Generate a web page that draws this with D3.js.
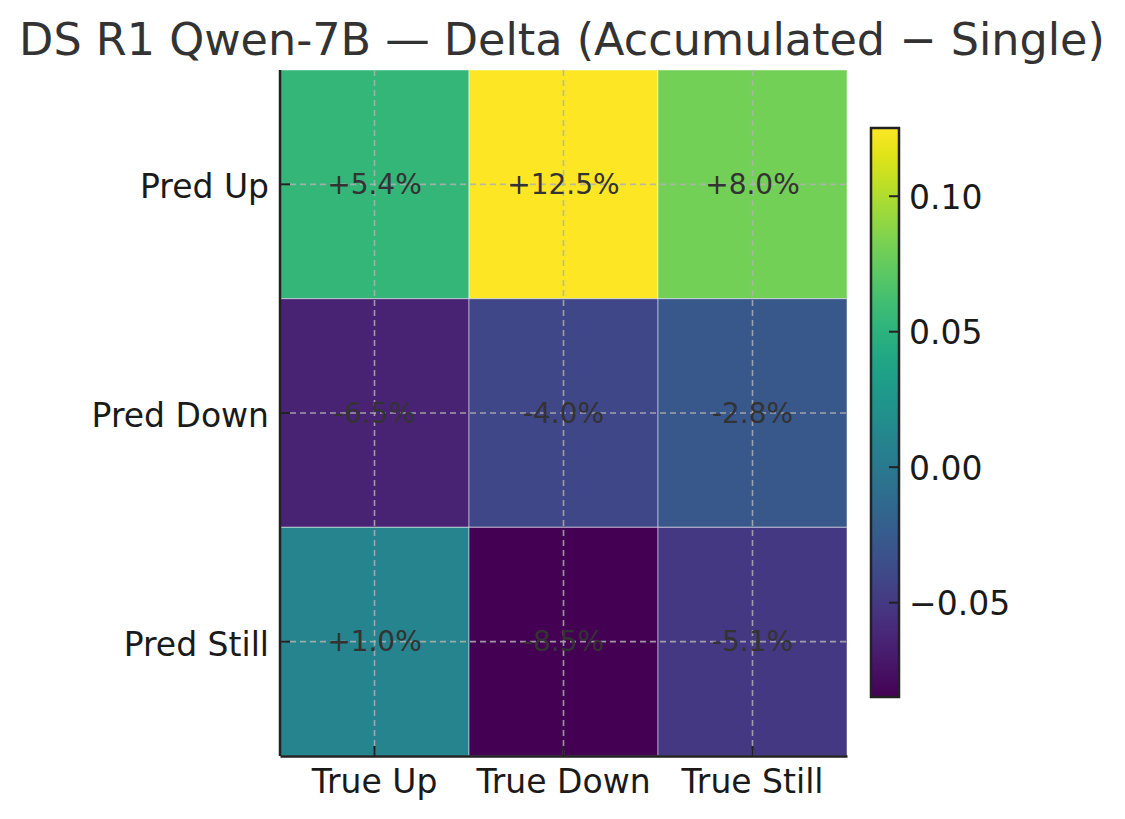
<!DOCTYPE html>
<html>
<head>
<meta charset="utf-8">
<script src="https://cdn.jsdelivr.net/npm/d3@7"></script>
<style>
  body { margin: 0; background: #fff; }
  svg { font-family: "DejaVu Sans", sans-serif; }
</style>
</head>
<body>
<svg id="chart" width="1125" height="819"></svg>
<script>
const title = "DS R1 Qwen-7B \u2014 Delta (Accumulated \u2212 Single)";
const trueLabels = ["True Up", "True Down", "True Still"];
const predLabels = ["Pred Up", "Pred Down", "Pred Still"];
// rows = predicted, cols = true
const deltaUp = [0.054, 0.125, 0.080];
const deltaDown = [-0.065, -0.040, -0.028];
const deltaStill = [0.010, -0.085, -0.051];
const cbTicks = [-0.05, 0.00, 0.05, 0.10];

const rows = [deltaUp, deltaDown, deltaStill];
const cells = [];
rows.forEach((r, i) => r.forEach((v, j) => cells.push({ pred: predLabels[i], tru: trueLabels[j], v })));

const svg = d3.select("#chart");
const plot = { left: 280, top: 70, right: 847, bottom: 756 };

const x = d3.scaleBand().domain(trueLabels).range([plot.left, plot.right]);
const y = d3.scaleBand().domain(predLabels).range([plot.top, plot.bottom]);

const allVals = cells.map(d => d.v);
const vmin = d3.min(allVals), vmax = d3.max(allVals);
const color = d3.scaleSequential(d3.interpolateViridis).domain([vmin, vmax]);

// cells
svg.append("g")
  .selectAll("rect")
  .data(cells)
  .join("rect")
  .attr("x", d => x(d.tru))
  .attr("y", d => y(d.pred))
  .attr("width", x.bandwidth())
  .attr("height", y.bandwidth())
  .attr("fill", d => color(d.v))
  .attr("stroke", "rgba(255,255,255,0.4)")
  .attr("stroke-width", 1.2);

// dashed grid at tick positions
const grid = svg.append("g")
  .attr("stroke", "#b0b0b0")
  .attr("stroke-opacity", 0.85)
  .attr("stroke-width", 1.6)
  .attr("stroke-dasharray", "6,4");
trueLabels.forEach(t => {
  const cx = x(t) + x.bandwidth() / 2;
  grid.append("line").attr("x1", cx).attr("x2", cx).attr("y1", plot.top).attr("y2", plot.bottom);
});
predLabels.forEach(p => {
  const cy = y(p) + y.bandwidth() / 2;
  grid.append("line").attr("x1", plot.left).attr("x2", plot.right).attr("y1", cy).attr("y2", cy);
});

// cell annotations
const fmt = d3.format("+.1%");
svg.append("g")
  .selectAll("text")
  .data(cells)
  .join("text")
  .attr("x", d => x(d.tru) + x.bandwidth() / 2)
  .attr("y", d => y(d.pred) + y.bandwidth() / 2)
  .attr("text-anchor", "middle")
  .attr("dominant-baseline", "central")
  .attr("font-size", 28)
  .attr("fill", "#333")
  .text(d => fmt(d.v).replace("\u2212", "-"));

// axes (ticks pointing inward)
const xAxis = svg.append("g")
  .attr("transform", `translate(0,${plot.bottom})`)
  .call(d3.axisBottom(x).tickSizeInner(-10).tickSizeOuter(0).tickPadding(14));
const yAxis = svg.append("g")
  .attr("transform", `translate(${plot.left},0)`)
  .call(d3.axisLeft(y).tickSizeInner(-10).tickSizeOuter(0).tickPadding(11));
[xAxis, yAxis].forEach(a => {
  a.select(".domain").attr("stroke", "#222").attr("stroke-width", 2.5);
  a.selectAll(".tick line").attr("stroke", "#222").attr("stroke-width", 2);
  a.selectAll(".tick text").attr("font-size", 33).attr("fill", "#1a1a1a")
    .attr("font-family", "DejaVu Sans, sans-serif");
});
yAxis.selectAll(".tick text").attr("dy", "0.42em");
yAxis.select(".domain").attr("d", `M0,${plot.top}H0V${plot.bottom}`);

// colorbar
const cb = { x: 871, w: 28, top: 128, bottom: 697 };
const cy = d3.scaleLinear().domain([vmin, vmax]).range([cb.bottom, cb.top]);
const defs = svg.append("defs");
const grad = defs.append("linearGradient").attr("id", "cbgrad")
  .attr("x1", 0).attr("y1", 1).attr("x2", 0).attr("y2", 0);
d3.range(0, 1.0001, 0.05).forEach(t => {
  grad.append("stop").attr("offset", t).attr("stop-color", d3.interpolateViridis(t));
});
svg.append("rect")
  .attr("x", cb.x).attr("y", cb.top)
  .attr("width", cb.w).attr("height", cb.bottom - cb.top)
  .attr("fill", "url(#cbgrad)");
const cbAxis = svg.append("g")
  .attr("transform", `translate(${cb.x + cb.w},0)`)
  .call(d3.axisRight(cy).tickValues(cbTicks).tickSizeInner(-10).tickSizeOuter(0).tickPadding(10)
    .tickFormat(d => d3.format(".2f")(d)));
cbAxis.select(".domain").remove();
cbAxis.selectAll(".tick line").attr("stroke", "#222").attr("stroke-width", 2);
cbAxis.selectAll(".tick text").attr("font-size", 33).attr("fill", "#1a1a1a")
  .attr("dy", "0.38em")
  .attr("font-family", "DejaVu Sans, sans-serif");
svg.append("rect")
  .attr("x", cb.x).attr("y", cb.top)
  .attr("width", cb.w).attr("height", cb.bottom - cb.top)
  .attr("fill", "none").attr("stroke", "#222").attr("stroke-width", 2.5);

// title
svg.append("text")
  .attr("x", 562)
  .attr("y", 55)
  .attr("text-anchor", "middle")
  .attr("font-size", 44.5)
  .attr("fill", "#333")
  .text(title);
</script>
</body>
</html>
